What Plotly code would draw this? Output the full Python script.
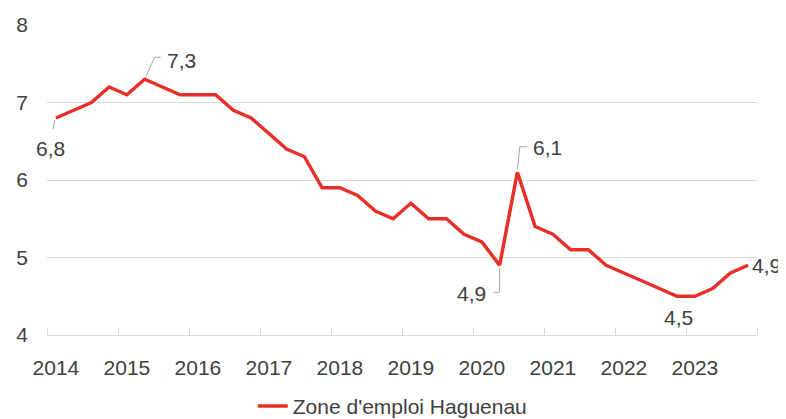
import plotly.graph_objects as go

# Data: quarterly unemployment rate (%), 2014 Q1 .. 2023 Q4
years = list(range(2014, 2024))
quarters = [y + (q + 0.5) / 4 for y in years for q in range(4)]
values = [
    6.8, 6.9, 7.0, 7.2,
    7.1, 7.3, 7.2, 7.1,
    7.1, 7.1, 6.9, 6.8,
    6.6, 6.4, 6.3, 5.9,
    5.9, 5.8, 5.6, 5.5,
    5.7, 5.5, 5.5, 5.3,
    5.2, 4.9, 6.1, 5.4,
    5.3, 5.1, 5.1, 4.9,
    4.8, 4.7, 4.6, 4.5,
    4.5, 4.6, 4.8, 4.9,
]
series_name = "Zone d'emploi Haguenau"
year_labels = [str(y) for y in years]
y_ticks = [4, 5, 6, 7, 8]

# labelled points: index, label-offset (px), leader path (px, y up)
labelled = [
    (0, (-5, -30), "M -1,-2 L -3,-11"),
    (5, (37, 19), "M 1,2 L 10,22 L 16,22"),
    (25, (-28, -28), "M 0,-3 L 0,-27 L -6,-27"),
    (26, (30, 25), "M 0,3 L 2.5,25.5 L 10,25.5"),
    (35, (1, -21), None),
    (39, (18, 0), None),
]

TEXT = "#404040"
GRID = "#d9d9d9"
RED = "#E8302A"
FONT = "Liberation Sans"
FS = 21

fig = go.Figure()
fig.add_trace(go.Scatter(
    x=quarters, y=values, mode="lines", name=series_name,
    line=dict(color=RED, width=3.5),
))

for idx, (dx, dy), path in labelled:
    fig.add_annotation(
        x=quarters[idx], y=values[idx], xref="x", yref="y",
        text=f"{values[idx]:.1f}".replace(".", ","),
        showarrow=False, xshift=dx, yshift=dy,
        font=dict(family=FONT, size=FS, color=TEXT),
    )
    if path:
        fig.add_shape(
            type="path", path=path, xref="x", yref="y",
            xsizemode="pixel", ysizemode="pixel",
            xanchor=quarters[idx], yanchor=values[idx],
            line=dict(color="#a6a6a6", width=1),
        )

# page body has an 8px default margin: margins compensate for it
fig.update_layout(
    width=786, height=419,
    margin=dict(l=39, r=37, t=17, b=92, autoexpand=False),
    paper_bgcolor="white", plot_bgcolor="white",
    font=dict(family=FONT, size=FS, color=TEXT),
    showlegend=True,
    legend=dict(
        orientation="h", x=0.487, xanchor="center", y=-0.23, yanchor="middle",
        font=dict(family=FONT, size=FS, color=TEXT),
        bgcolor="rgba(0,0,0,0)",
    ),
    xaxis=dict(
        range=[2014, 2024], automargin=False,
        tickvals=[y + 0.125 for y in years], ticktext=year_labels,
        ticks="", showgrid=False, zeroline=False,
        showline=True, linecolor=GRID, linewidth=1,
        ticklabelstandoff=14,
        minor=dict(tickvals=list(range(2014, 2025)), ticks="inside",
                   ticklen=7, tickcolor=GRID, tickwidth=1, showgrid=False),
        fixedrange=True,
    ),
    yaxis=dict(
        range=[4, 8], tickvals=y_ticks, ticks="", automargin=False,
        showgrid=True, gridcolor=GRID, gridwidth=1, zeroline=False,
        ticklabelstandoff=18,
        fixedrange=True,
    ),
)

fig.write_html("out.html")
